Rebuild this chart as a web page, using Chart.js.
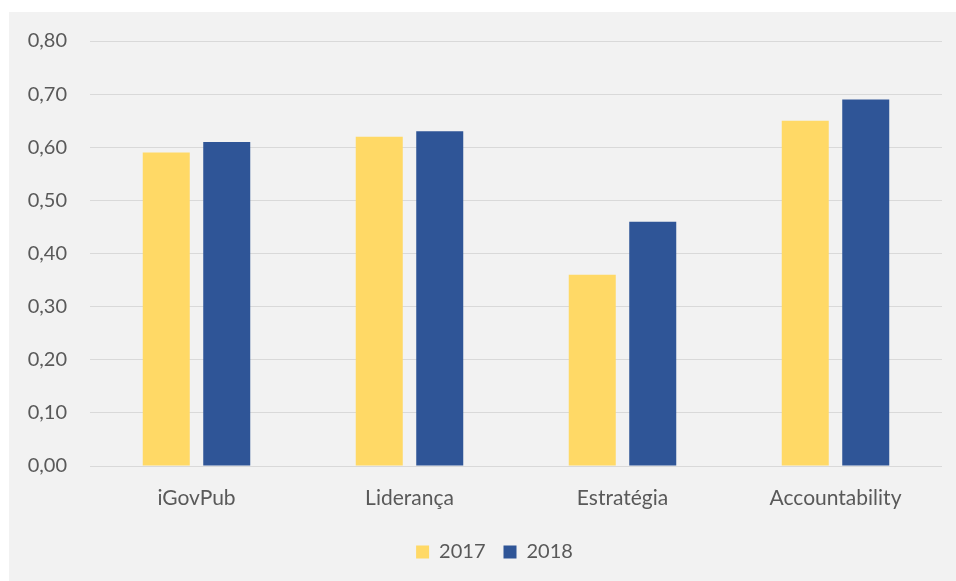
<!DOCTYPE html>
<html>

<head>
    <meta charset="UTF-8">
    <title>iGovPub 2017 x 2018</title>
    <script src="https://cdn.jsdelivr.net/npm/chart.js@4/dist/chart.umd.min.js"></script>
    <style>
        * {
            margin: 0;
            padding: 0;
            box-sizing: border-box;
        }

        body {
            background: #fff;
            width: 956px;
            height: 581px;
            overflow: hidden;
        }

        .chart-box {
            position: absolute;
            left: 9px;
            top: 12px;
            width: 947px;
            height: 569px;
            background: #f2f2f2;
        }
    </style>
</head>

<body>
    <div class="chart-box">
        <canvas id="chart"></canvas>
    </div>

    <script>
        const categories = ['iGovPub', 'Liderança', 'Estratégia', 'Accountability'];
        const values2017 = [0.59, 0.62, 0.36, 0.65];
        const values2018 = [0.61, 0.63, 0.46, 0.69];

        const textColor = '#595959';
        const family = 'Lato, "Open Sans", sans-serif';

        // excel centres the legend a bit right of the plot centre
        const legendShift = {
            id: 'legendShift',
            afterLayout(chart) {
                chart.legend.left += 19;
                chart.legend.right += 19;
            }
        };

        new Chart(document.getElementById('chart').getContext('2d'), {
            type: 'bar',
            data: {
                labels: categories,
                datasets: [
                    { label: '2017', data: values2017, backgroundColor: '#ffd966' },
                    { label: '2018', data: values2018, backgroundColor: '#2f5597' }
                ]
            },
            plugins: [legendShift],
            options: {
                responsive: true,
                maintainAspectRatio: false,
                animation: false,
                categoryPercentage: 0.568,
                barPercentage: 0.777,
                layout: { padding: { top: 29, right: 14, bottom: 9, left: 0 } },
                plugins: {
                    tooltip: { enabled: false },
                    legend: {
                        position: 'bottom',
                        labels: {
                            boxWidth: 13,
                            boxHeight: 13,
                            padding: 18,
                            color: textColor,
                            font: { family: family, size: 20 }
                        }
                    }
                },
                scales: {
                    x: {
                        grid: { display: false },
                        border: { display: false },
                        ticks: { color: textColor, font: { family: family, size: 21 }, padding: 12 },
                        afterFit: s => { s.height = 58; }
                    },
                    y: {
                        min: 0,
                        max: 0.8,
                        ticks: {
                            stepSize: 0.1,
                            color: textColor,
                            font: { family: family, size: 20 },
                            padding: 23,
                            callback: v => v.toFixed(2).replace('.', ',')
                        },
                        grid: { color: '#d9d9d9', drawTicks: false, lineWidth: 1 },
                        border: { display: false },
                        afterFit: s => {
                            s.width = 81;
                            s.paddingTop = 0;
                            s.paddingBottom = 0;
                        }
                    }
                }
            }
        });
    </script>
</body>

</html>
